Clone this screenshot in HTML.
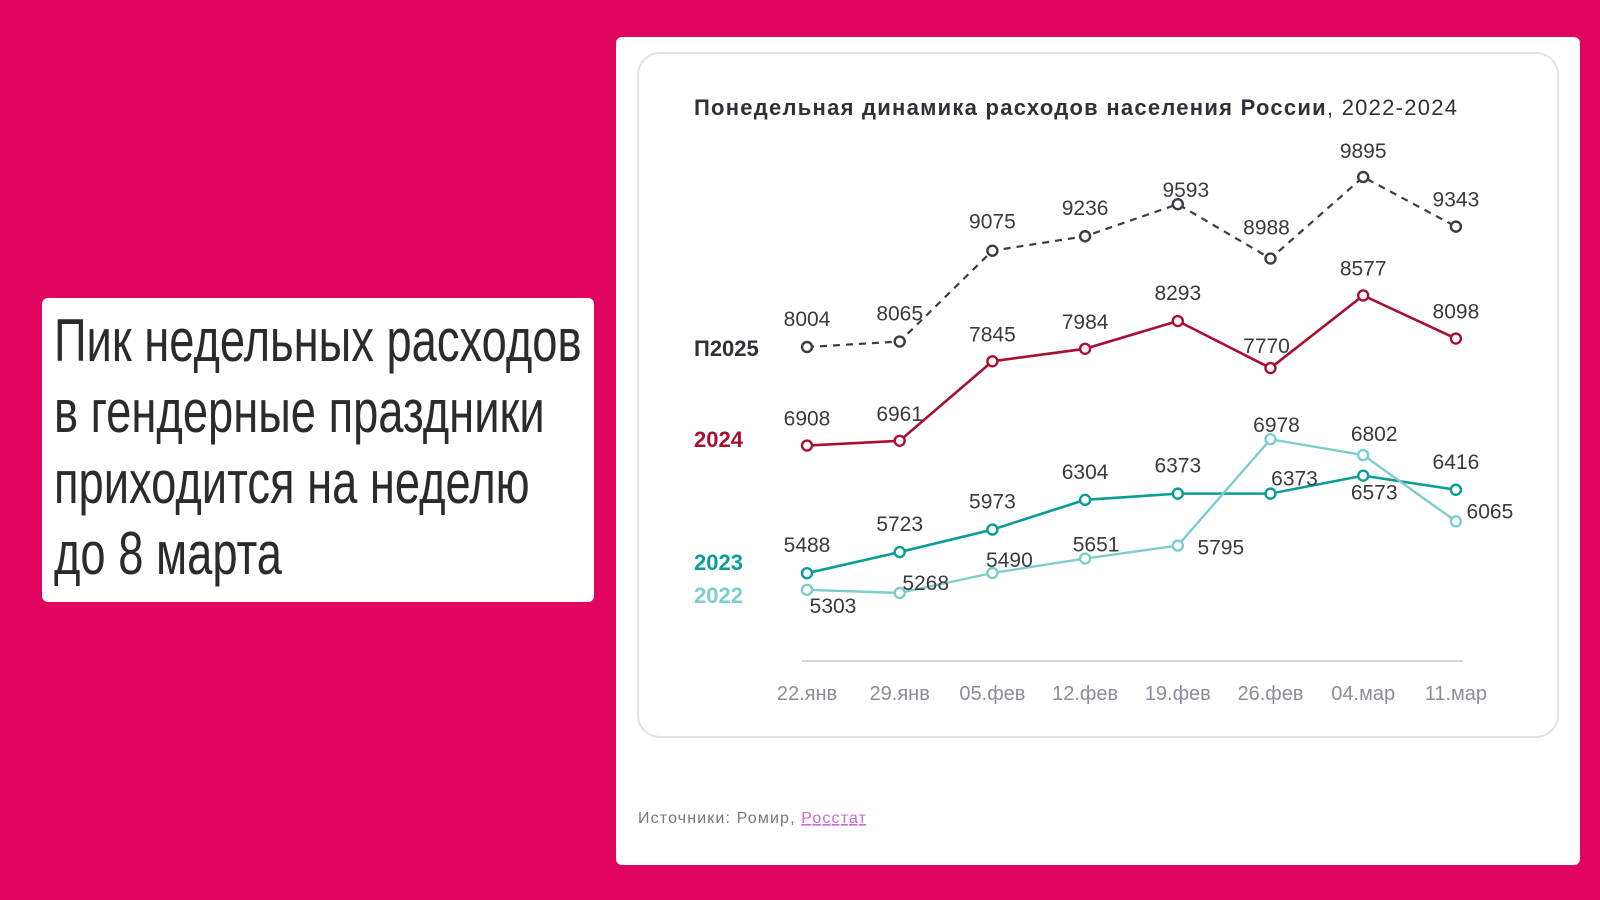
<!DOCTYPE html>
<html><head><meta charset="utf-8"><style>
html,body{margin:0;padding:0}
body{width:1600px;height:900px;background:#e0045f;position:relative;overflow:hidden;font-family:"Liberation Sans",sans-serif}
#panel{position:absolute;left:616px;top:37px;width:964px;height:828px;background:#fff;border-radius:6px}
#textbox{position:absolute;left:42px;top:298px;width:552px;height:304px;background:#fff;border-radius:6px;overflow:hidden}
#textbox div{position:absolute;left:12px;font-size:60px;color:#2b2b2b;white-space:nowrap;transform:scaleX(0.755);transform-origin:left center;line-height:70px}
</style></head><body>
<div id="textbox">
<div style="top:8px">Пик недельных расходов</div>
<div style="top:79px">в гендерные праздники</div>
<div style="top:150px">приходится на неделю</div>
<div style="top:221px">до 8 марта</div>
</div>
<div id="panel"></div>
<svg id="chart" width="1600" height="900" style="position:absolute;left:0;top:0">
<rect x="638" y="53" width="920" height="684" rx="22" fill="#fff" stroke="#e2e2e2" stroke-width="2"/>
<text x="694" y="115" font-size="22" font-weight="bold" fill="#2e3138" textLength="763" lengthAdjust="spacing">Понедельная динамика расходов населения России<tspan font-weight="normal">, 2022-2024</tspan></text>
<line x1="802" y1="661" x2="1463" y2="661" stroke="#d8d8de" stroke-width="2"/>
<g id="marks"></g>
<text x="638" y="823" font-size="16" fill="#777" textLength="228" lengthAdjust="spacing">Источники: Ромир, <tspan fill="#c86ad8" text-decoration="underline">Росстат</tspan></text>
</svg>
<script>
const categories=["22.янв","29.янв","05.фев","12.фев","19.фев","26.фев","04.мар","11.мар"];
const seriesNames=["П2025","2024","2023","2022"];
const valuesP2025=[8004,8065,9075,9236,9593,8988,9895,9343];
const values2024=[6908,6961,7845,7984,8293,7770,8577,8098];
const values2023=[5488,5723,5973,6304,6373,6373,6573,6416];
const values2022=[5303,5268,5490,5651,5795,6978,6802,6065];
function xs(i){return 807+i*92.7;}
function ys(v){return 347-(v-8004)*0.0899;}
const NS="http://www.w3.org/2000/svg";
const g=document.getElementById('marks');
const cfg=[
 {vals:valuesP2025,color:"#3a3d46",dash:"7,6",w:2.2,name:"p2025",legendY:348,legendColor:"#2e3138",
  off:[[0,-28],[0,-28],[0,-29],[0,-28],[8,-14],[-4,-31],[0,-26],[0,-27]]},
 {vals:values2024,color:"#a80f31",dash:null,w:2.6,name:"2024",legendY:439,legendColor:"#a80f31",
  off:[[0,-27],[0,-27],[0,-27],[0,-27],[0,-28],[-4,-22],[0,-27],[0,-27]]},
 {vals:values2023,color:"#0a9d96",dash:null,w:2.6,name:"2023",legendY:562,legendColor:"#0a9d96",
  off:[[0,-28],[0,-28],[0,-28],[0,-28],[0,-28],[24,-15],[11,17],[0,-28]]},
 {vals:values2022,color:"#7dcdcd",dash:null,w:2.4,name:"2022",legendY:595,legendColor:"#7dcdcd",
  off:[[26,16],[26,-10],[17,-13],[11,-14],[43,2],[6,-14],[11,-21],[34,-10]]}
];
cfg.forEach((c,si)=>{
 const pl=document.createElementNS(NS,'polyline');
 
 
 pl.setAttribute('points',c.vals.map((v,i)=>xs(i)+','+ys(v)).join(' '));
 pl.setAttribute('fill','none');pl.setAttribute('stroke',c.color);pl.setAttribute('stroke-width',c.w);
 if(c.dash)pl.setAttribute('stroke-dasharray',c.dash);
 g.appendChild(pl);
 const lg=document.createElementNS(NS,'text');
 
 
 lg.setAttribute('x',694);lg.setAttribute('y',c.legendY+8);lg.setAttribute('font-size',22);lg.setAttribute('font-weight','bold');lg.setAttribute('fill',c.legendColor);
 lg.textContent=seriesNames[si];g.appendChild(lg);
});
cfg.forEach(c=>{
 c.vals.forEach((v,i)=>{
  const ci=document.createElementNS(NS,'circle');
  
  
  ci.setAttribute('cx',xs(i));ci.setAttribute('cy',ys(v));ci.setAttribute('r',5);
  ci.setAttribute('fill','#fff');ci.setAttribute('stroke',c.color);ci.setAttribute('stroke-width',2.4);
  g.appendChild(ci);
  const t=document.createElementNS(NS,'text');
  
  
  t.setAttribute('x',xs(i)+c.off[i][0]);t.setAttribute('y',ys(v)+c.off[i][1]+7);
  t.setAttribute('text-anchor','middle');t.setAttribute('font-size',21);t.setAttribute('fill','#3a3a3e');
  t.textContent=v;g.appendChild(t);
 });
});
categories.forEach((cat,i)=>{
 const t=document.createElementNS(NS,'text');
 
 
 t.setAttribute('x',xs(i));t.setAttribute('y',700);t.setAttribute('text-anchor','middle');
 t.setAttribute('font-size',20);t.setAttribute('fill','#8a8d99');t.textContent=cat;g.appendChild(t);
});
</script>
</body></html>
